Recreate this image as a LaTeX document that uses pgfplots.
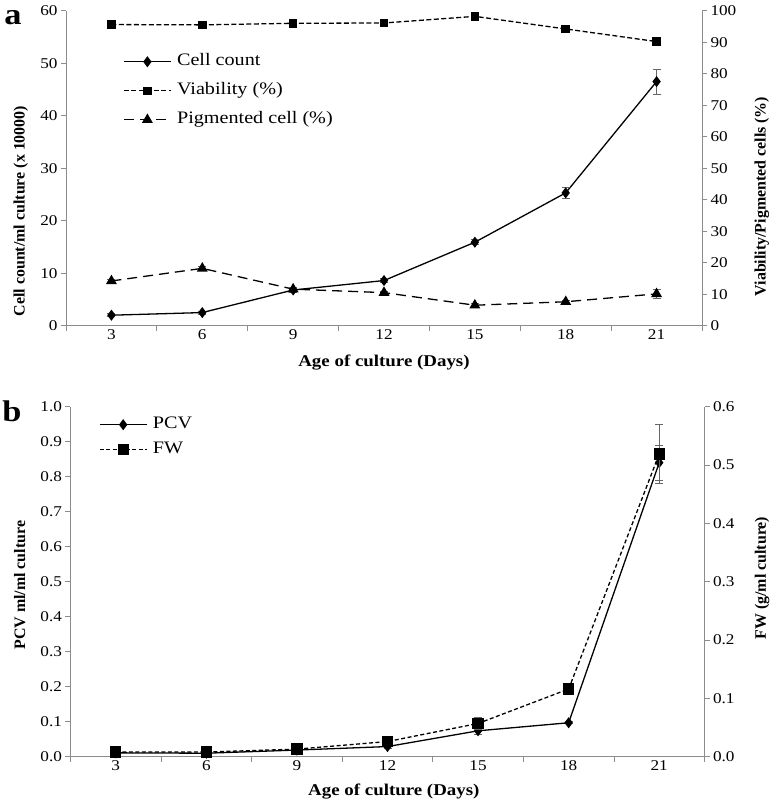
\documentclass[border=0pt]{standalone}
\usepackage{fontspec}
\setmainfont{Liberation Serif}[FakeStretch=1.15]
\newfontfamily\rotfont{Liberation Serif}
\usepackage{pgfplots}
\pgfplotsset{compat=1.18}

\pgfplotsset{
  base/.style={
    scale only axis, width=636bp,
    xmin=-0.5, xmax=6.5,
    axis line style={black!45,line width=0.8bp},
    tick style={black!45,line width=0.8bp},
    tick align=outside, major tick length=5bp,
    ticklabel style={font=\fontsize{15}{18}\selectfont,text=black},
    /pgf/number format/assume math mode=true,
    ylabel style={font=\rotfont\bfseries\fontsize{16}{19}\selectfont,anchor=center},
    xlabel style={font=\bfseries\fontsize{16.5}{19}\selectfont,anchor=center},
    legend cell align=left,
    legend image code/.code={\draw[mark repeat=2,mark phase=2,#1] plot coordinates {(0bp,0bp) (23.5bp,0bp) (47bp,0bp)};},
    error bars/error bar style={line width=0.8bp,black!60,solid},
    error bars/error mark options={rotate=90,mark size=4bp,line width=0.8bp,black!60,solid},
  },
  leftax/.style={base, axis x line*=bottom, axis y line*=left,
    xtick={-0.5,0.5,...,6.5}, xticklabels={},
    extra x ticks={0,1,2,3,4,5,6},
    extra x tick labels={3,6,9,12,15,18,21},
    extra x tick style={major tick length=0pt},
    xlabel={Age of culture (Days)}},
  rightax/.style={base, axis x line=none, axis y line*=right},
  ln/.style={black,line width=1.3bp},
}

\begin{document}
\begin{tikzpicture}
\useasboundingbox (-66bp,-476.3bp) rectangle (708bp,325.7bp);

% ---- panel a, left axis: cell count
\begin{axis}[leftax, height=315bp, at={(0,0)}, anchor=south west,
  ymin=0, ymax=60, ytick distance=10,
  ylabel={Cell count/ml culture (x 10000)},
  ylabel style={at={(axis description cs:-0.071,0.364)}},
  xlabel style={at={(axis description cs:0.5,-0.117)}}]
\addplot[ln, mark=diamond*, mark size=4.5bp,
  error bars/.cd, y dir=both, y explicit] coordinates {
  (0,2.0) +- (0,0.3) (1,2.5) +- (0,0.3) (2,6.8) +- (0,0.4) (3,8.6) +- (0,0.4)
  (4,15.9) +- (0,0.5) (5,25.3) +- (0,1.0) (6,46.5) +- (0,2.4)};
\end{axis}

% ---- panel a, right axis: viability / pigmented
\begin{axis}[rightax, height=315bp, at={(0,0)}, anchor=south west,
  ymin=0, ymax=100, ytick distance=10,
  ylabel={Viability/Pigmented cells (\%)},
  ylabel style={at={(axis description cs:1.094,0.41)}},
  legend style={at={(rel axis cs:0.085,0.875)},anchor=north west,draw=none,fill=none,
    font=\fontsize{17.6}{20}\selectfont,row sep=10bp,
    /tikz/every odd column/.append style={column sep=4bp},
    nodes={inner sep=1.5bp,text height=12bp,text depth=4bp}}]
\addlegendimage{ln,mark=diamond*,mark size=4.5bp}
\addlegendentry{Cell count}
\addplot[ln, dash pattern=on 5bp off 2.5bp, mark=square*, mark size=3.6bp, mark options={solid},
  error bars/.cd, y dir=both, y explicit] coordinates {
  (0,95.6) +- (0,0.4) (1,95.5) +- (0,0.4) (2,96.0) +- (0,0.4) (3,96.1) +- (0,0.4)
  (4,98.2) +- (0,0.4) (5,94.2) +- (0,0.5) (6,90.2) +- (0,0.5)};
\addlegendentry{Viability (\%)}
\addplot[ln, dash pattern=on 10bp off 6bp, mark=triangle*, mark size=5bp, mark options={solid},
  error bars/.cd, y dir=both, y explicit] coordinates {
  (0,14.2) +- (0,0.5) (1,18.2) +- (0,0.5) (2,11.6) +- (0,0.5) (3,10.5) +- (0,0.5)
  (4,6.5) +- (0,0.5) (5,7.6) +- (0,0.5) (6,10.1) +- (0,1.3)};
\addlegendentry{Pigmented cell (\%)}
\end{axis}

% ---- panel b, left axis: PCV
\begin{axis}[leftax, height=350bp, width=634bp, at={(4.5bp,-431bp)}, anchor=south west,
  ymin=0, ymax=1, ytick distance=0.1,
  yticklabel style={/pgf/number format/.cd,fixed,fixed zerofill,precision=1},
  ylabel={PCV ml/ml culture},
  ylabel style={at={(axis description cs:-0.08,0.49)}},
  xlabel style={at={(axis description cs:0.51,-0.1)}}]
\addplot[ln, mark=diamond*, mark size=4.5bp,
  error bars/.cd, y dir=both, y explicit] coordinates {
  (0,0.011) +- (0,0.002) (1,0.010) +- (0,0.002) (2,0.019) +- (0,0.003) (3,0.029) +- (0,0.005)
  (4,0.074) +- (0,0.010) (5,0.097) +- (0,0.003) (6,0.840) +- (0,0.050)};
\end{axis}

% ---- panel b, right axis: FW
\begin{axis}[rightax, height=350bp, width=634bp, at={(4.5bp,-431bp)}, anchor=south west,
  ymin=0, ymax=0.6, ytick distance=0.1,
  yticklabel style={/pgf/number format/.cd,fixed,fixed zerofill,precision=1},
  ylabel={FW (g/ml culture)},
  ylabel style={at={(axis description cs:1.091,0.51)}},
  legend style={at={(rel axis cs:0.04,0.982)},anchor=north west,draw=none,fill=none,
    font=\fontsize{17.6}{20}\selectfont,row sep=6bp,
    /tikz/every odd column/.append style={column sep=4bp},
    nodes={inner sep=1.5bp,text height=12bp,text depth=4bp}}]
\addlegendimage{ln,mark=diamond*,mark size=4.5bp}
\addlegendentry{PCV}
\addplot[ln, dash pattern=on 4bp off 2.5bp, mark=square*, mark size=5bp, mark options={solid},
  error bars/.cd, y dir=both, y explicit] coordinates {
  (0,0.008) +- (0,0.001) (1,0.008) +- (0,0.001) (2,0.013) +- (0,0.002) (3,0.026) +- (0,0.004)
  (4,0.057) +- (0,0.011) (5,0.116) +- (0,0.003) (6,0.519) +- (0,0.050)};
\addlegendentry{FW}
\end{axis}

\node[font=\bfseries\fontsize{30}{32}\selectfont,inner sep=0] at (-53bp,308bp) {a};
\node[font=\bfseries\fontsize{30}{32}\selectfont,inner sep=0] at (-54bp,-86bp) {b};
\end{tikzpicture}
\end{document}
